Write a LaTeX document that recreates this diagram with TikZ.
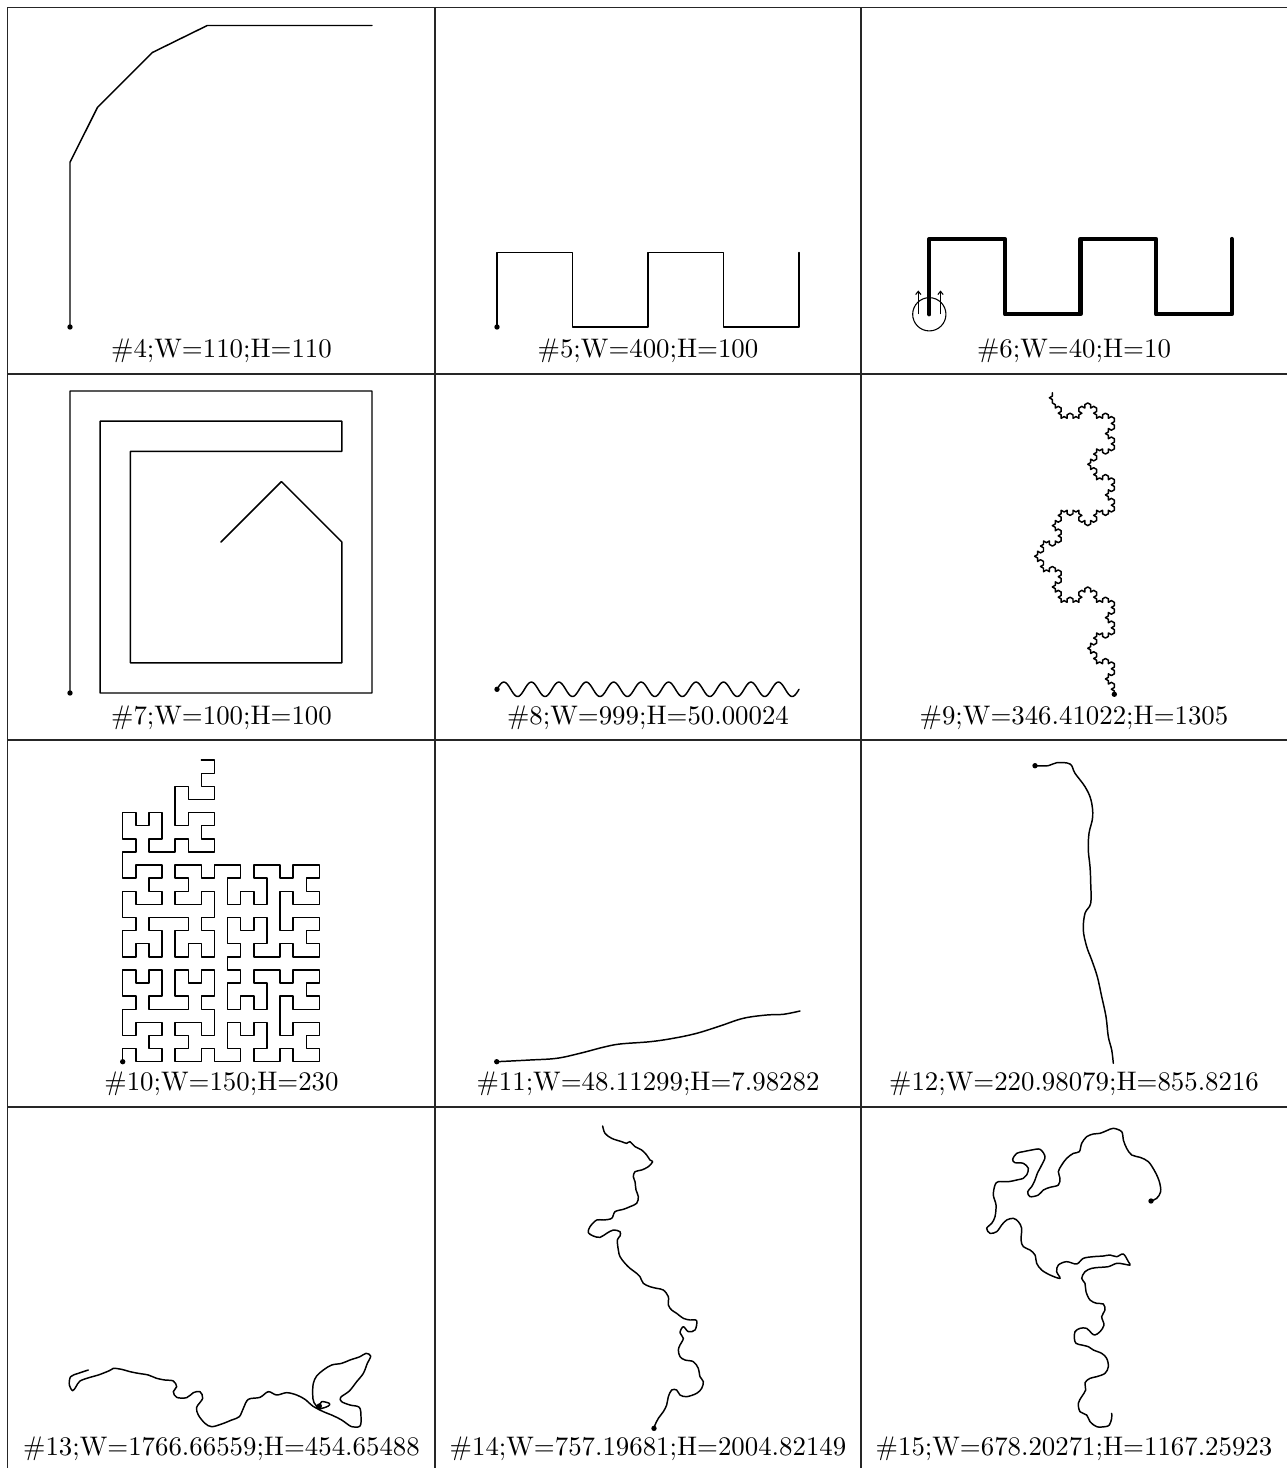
\documentclass[tikz,border=0pt]{standalone}
\usetikzlibrary{lindenmayersystems,arrows.meta}
\pgfdeclarelindenmayersystem{HilbPart}{
  \rule{A -> +BF-AFA-FB+}
  \rule{B -> -AF+BFB+FA-}
  \rule{C -> D}\rule{D -> A}
  \rule{E -> G}\rule{G -> B}
  \rule{H -> I}\rule{I -> J}\rule{J -> A}
  \rule{K -> M}\rule{M -> N}\rule{N -> B}
}
\pgfdeclarelindenmayersystem{KochPart}{
  \rule{F -> F++F----F++F}
  \rule{G -> H}\rule{H -> F}
  \rule{K -> M}\rule{M -> N}\rule{N -> F}
}
\tikzset{
  grid/.style={line width=0.4pt,draw=black!85},
  curve/.style={line width=0.55pt,line join=round,line cap=round},
  thickwave/.style={line width=1.6pt,line join=round,line cap=round},
  startdot/.style={fill=black},
  caption/.style={anchor=base,inner sep=0pt}
}
\begin{document}
\begin{tikzpicture}[x=0.3727pt,y=-0.3727pt]
\useasboundingbox (0,0) rectangle (1287,1468);
% grid
\foreach \yy in {7.5,374,740,1107}{\draw[grid] (7.5,\yy) -- (1287,\yy);}
\foreach \xx in {7.5,435,861}{\draw[grid] (\xx,7.5) -- (\xx,1468);}
% #4
\draw[curve] (70,327) -- (70,162.3) -- (97.5,107.4) -- (152.4,52.5) -- (207.3,25.5) -- (372,25.5);
\fill[startdot] (70,327) circle[radius=1pt];
\node[caption] (c4) at (221.5,358) {\#4;W=110;H=110};
% #5
\draw[curve] (497,327) -- (497,252.5) -- (572.5,252.5) -- (572.5,327) -- (648,327) -- (648,252.5) -- (723.5,252.5) -- (723.5,327) -- (799,327) -- (799,252.5);
\fill[startdot] (497,327) circle[radius=1pt];
\node[caption] (c5) at (648,358) {\#5;W=400;H=100};
% #6
\draw[thickwave] (929.3,314.3) -- (929.3,239) -- (1004.9,239) -- (1004.9,314.3) -- (1080.5,314.3) -- (1080.5,239) -- (1156.1,239) -- (1156.1,314.3) -- (1231.7,314.3) -- (1231.7,239);
\draw[line width=0.4pt] (929.3,314.3) circle[radius=6.2pt];
\draw[line width=0.4pt,-{Straight Barb[length=1.2pt,width=2pt]}] (918.3,314.3) -- (918.3,290.5);
\draw[line width=0.4pt,-{Straight Barb[length=1.2pt,width=2pt]}] (940.5,314.3) -- (940.5,290.5);
\node[caption] (c6) at (1074,358) {\#6;W=40;H=10};
% #7
\draw[curve] (70,693) -- (70,391) -- (372,391) -- (372,693) -- (100.2,693) -- (100.2,421.2) -- (341.8,421.2) -- (341.8,451.4) -- (130.4,451.4) -- (130.4,662.8) -- (341.8,662.8) -- (341.8,542) -- (281.4,481.6) -- (221,542);
\fill[startdot] (70,693) circle[radius=1pt];
\node[caption] (c7) at (221.5,724) {\#7;W=100;H=100};
% #8
\draw[curve] plot[domain=0:302,samples=300,smooth] ({497+\x},{689.3-7.2*sin(13.1126*\x)});
\fill[startdot] (497,689.3) circle[radius=1pt];
\node[caption] (c8) at (648,724) {\#8;W=999;H=50.00024};
% #9 Koch
\begin{scope}[shift={(1114.3,694.3)}]
\draw[curve] (0,0) [lindenmayer system={KochPart, axiom=+++F++G++G----K++K--K, order=4, step=1.270pt, angle=30}] lindenmayer system;
\end{scope}
\fill[startdot] (1114.3,694.3) circle[radius=1pt];
\node[caption] (c9) at (1074,724) {\#9;W=346.41022;H=1305};
% #10 Hilbert
\begin{scope}[shift={(122.7,1061.7)}]
\draw[curve] (0,0) [lindenmayer system={HilbPart, axiom=+BF-+-CF+EF-HF+KF-F+F+F, order=4, step=4.886pt, angle=90}] lindenmayer system;
\end{scope}
\fill[startdot] (122.7,1061.7) circle[radius=1pt];
\node[caption] (c10) at (221.5,1090) {\#10;W=150;H=230};
% #11
\draw[curve] plot[smooth,tension=0.6] coordinates {(496.7,1061.7) (530,1060) (556.7,1058.3) (580,1053.3) (603,1047.3) (620,1044) (650,1041.7) (673.3,1038.3) (696.7,1033.3) (720,1026) (743.3,1018.3) (766.7,1015) (783.3,1014.3) (800,1011)};
\fill[startdot] (496.7,1061.7) circle[radius=1pt];
\node[caption] (c11) at (648,1090) {\#11;W=48.11299;H=7.98282};
% #12
\draw[curve] plot[smooth,tension=0.6] coordinates {(1035,765.7) (1048.3,765.7) (1056.7,762.7) (1070,764) (1075,773.3) (1085,786.7) (1091,800) (1092.7,816.7) (1089,833.3) (1088.3,850) (1090,866.7) (1090.7,883.3) (1090.7,903.3) (1085,913.3) (1083.3,930) (1086.7,946.7) (1091.7,960) (1097.3,976.7) (1101.7,996.7) (1106,1016.7) (1108.3,1036.7) (1111.7,1050) (1113.3,1063.3)};
\fill[startdot] (1035,765.7) circle[radius=1pt];
\node[caption] (c12) at (1074,1090) {\#12;W=220.98079;H=855.8216};
% #13
\begin{scope}[shift={(30,1320)},scale=1/3]
\draw[curve] plot[smooth,tension=0.55] coordinates {(868,258) (875,245) (898,250) (895,258) (870,265) (852,248) (848,222) (850,190) (860,168) (880,150) (905,135) (935,130) (960,120) (990,110) (1008,100) (1022,108) (1012,130) (1000,160) (980,185) (958,213) (932,232) (935,245) (960,255) (988,262) (993,290) (990,318) (965,320) (935,300) (905,285) (880,275) (848,258) (825,238) (800,225) (770,218) (740,225) (715,215) (690,232) (655,238) (640,265) (628,290) (605,300) (575,312) (545,320) (525,310) (505,285) (500,262) (518,235) (510,215) (490,218) (470,233) (440,232) (430,215) (440,200) (430,183) (405,180) (380,175) (355,165) (325,160) (300,155) (275,148) (250,145) (238,152) (205,165) (180,172) (150,183) (138,200) (128,212) (118,195) (122,170) (145,160) (175,150)};
\fill[startdot] (868,258) circle[radius=3pt];
\end{scope}
\node[caption] (c13) at (221.5,1455) {\#13;W=1766.66559;H=454.65488};
% #14
\begin{scope}[shift={(560,1110)},scale=1/3]
\draw[curve] plot[smooth,tension=0.55] coordinates {(282,955) (285,945) (295,925) (310,905) (320,885) (325,860) (335,840) (350,840) (360,855) (380,860) (410,850) (425,835) (430,815) (420,800) (415,775) (400,755) (375,750) (360,740) (355,720) (360,705) (370,685) (360,668) (370,650) (385,665) (405,660) (410,632) (390,630) (370,625) (350,610) (335,600) (325,585) (325,560) (310,540) (290,535) (270,530) (250,520) (240,500) (230,490) (210,475) (195,460) (180,440) (175,420) (172,390) (180,378) (180,365) (160,360) (140,370) (120,382) (100,378) (85,368) (90,350) (110,330) (130,330) (155,325) (165,305) (190,298) (210,290) (230,280) (235,260) (228,240) (225,215) (220,200) (225,185) (245,180) (265,170) (278,155) (270,150) (260,135) (245,120) (225,110) (210,95) (200,100) (185,95) (155,85) (135,70) (128,48)};
\fill[startdot] (282,955) circle[radius=3pt];
\end{scope}
\node[caption] (c14) at (648,1455) {\#14;W=757.19681;H=2004.82149};
% #15
\begin{scope}[shift={(960,1110)},scale=1/3]
\draw[curve] plot[smooth,tension=0.55] coordinates {(573,273) (590,265) (602,245) (598,215) (585,185) (565,155) (540,142) (515,135) (500,115) (490,90) (485,65) (460,55) (440,62) (420,70) (400,72) (380,80) (365,100) (358,125) (340,130) (320,145) (305,165) (295,185) (300,205) (295,225) (270,232) (250,240) (235,255) (210,260) (203,245) (215,230) (225,210) (232,190) (245,165) (255,140) (240,118) (215,120) (190,125) (170,130) (158,148) (165,158) (190,160) (205,175) (200,195) (190,205) (170,210) (145,215) (115,215) (105,225) (100,255) (108,285) (105,320) (95,340) (80,355) (90,370) (110,365) (125,345) (140,330) (160,325) (175,335) (185,355) (183,390) (190,410) (210,420) (225,435) (230,460) (245,480) (270,495) (300,505) (290,485) (295,465) (320,455) (350,462) (370,445) (400,440) (430,438) (450,435) (470,440) (490,432) (505,455) (510,465) (490,462) (470,460) (445,470) (420,472) (395,475) (375,485) (365,505) (375,520) (378,545) (390,570) (410,580) (430,582) (435,600) (425,620) (432,645) (420,665) (405,675) (395,670) (380,655) (360,655) (345,665) (343,685) (348,700) (365,705) (385,710) (400,720) (425,730) (440,745) (445,770) (435,790) (410,800) (390,805) (375,818) (377,840) (365,860) (355,880) (360,905) (380,915) (390,935) (410,950) (435,950) (448,945) (455,925) (455,910)};
\fill[startdot] (573,273) circle[radius=3pt];
\end{scope}
\node[caption] (c15) at (1074,1455) {\#15;W=678.20271;H=1167.25923};
\end{tikzpicture}
\end{document}
